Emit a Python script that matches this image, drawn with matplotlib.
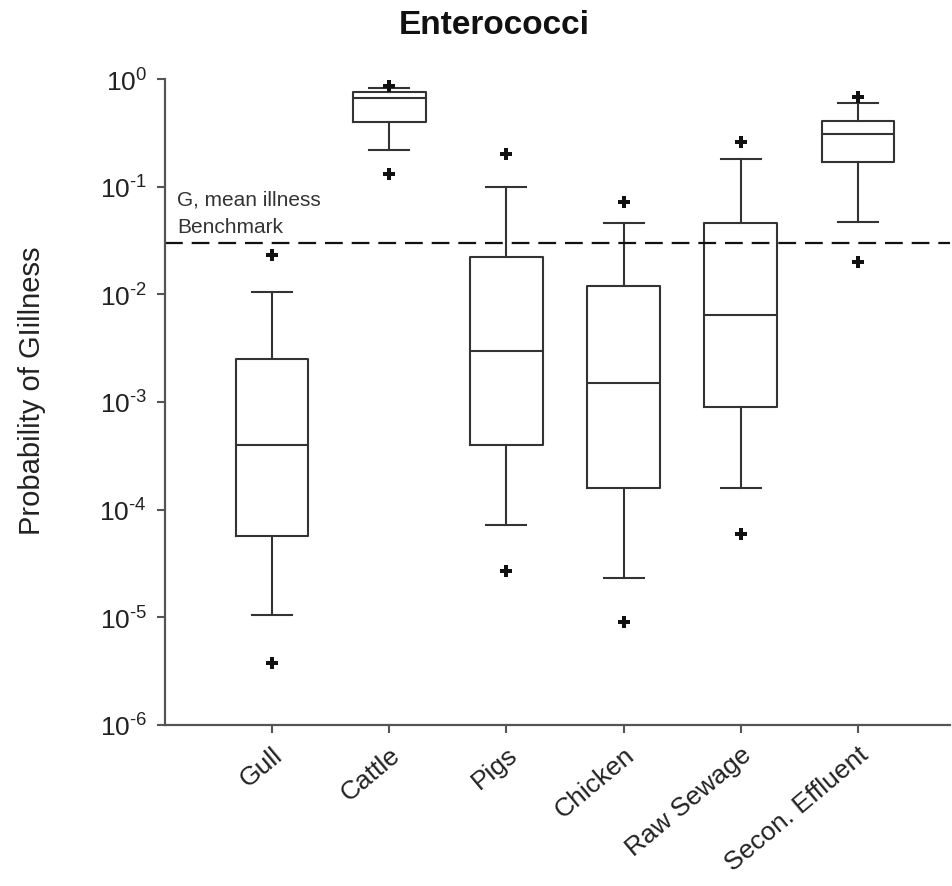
import matplotlib
matplotlib.use("Agg")
import matplotlib.pyplot as plt

plt.rcParams['font.family'] = ['Liberation Sans', 'DejaVu Sans']
plt.rcParams['mathtext.fontset'] = 'custom'
plt.rcParams['mathtext.rm'] = 'Liberation Sans'
plt.rcParams['mathtext.it'] = 'Liberation Sans'

# data (probability of GI illness)
categories = ['Gull', 'Cattle', 'Pigs', 'Chicken', 'Raw Sewage', 'Secon. Effluent']
whisker_low = [1.05e-5, 0.22, 7.2e-5, 2.3e-5, 1.6e-4, 0.047]
q1 = [5.7e-5, 0.40, 4.0e-4, 1.6e-4, 9.0e-4, 0.17]
medians = [4.0e-4, 0.66, 3.0e-3, 1.5e-3, 6.4e-3, 0.31]
q3 = [2.5e-3, 0.76, 2.2e-2, 1.2e-2, 4.6e-2, 0.41]
whisker_high = [1.05e-2, 0.83, 0.10, 0.046, 0.18, 0.60]
outliers = [[3.8e-6, 0.023], [0.13, 0.86], [2.7e-5, 0.20], [9e-6, 0.072], [6e-5, 0.26], [0.02, 0.68]]
benchmark = 0.03

ytick_exps = [0, -1, -2, -3, -4, -5, -6]

dpi = 100
fig = plt.figure(figsize=(953 / dpi, 887 / dpi), dpi=dpi)
ax = fig.add_axes([165 / 953, 161 / 887, 785 / 953, 646 / 887])

stats = []
for i, name in enumerate(categories):
    stats.append({'label': name, 'whislo': whisker_low[i], 'q1': q1[i], 'med': medians[i],
                  'q3': q3[i], 'whishi': whisker_high[i], 'fliers': outliers[i]})

line_col = '#333333'
positions = list(range(1, len(categories) + 1))
ax.bxp(stats, positions=positions, widths=0.62,
       boxprops=dict(color=line_col, linewidth=1.5),
       medianprops=dict(color=line_col, linewidth=1.5),
       whiskerprops=dict(color=line_col, linewidth=1.5),
       capprops=dict(color=line_col, linewidth=1.5),
       capwidths=0.34,
       flierprops=dict(marker='P', markersize=8, markerfacecolor='#111111',
                       markeredgecolor='#111111', markeredgewidth=0))

ax.axhline(benchmark, color='#111111', linewidth=1.6, linestyle=(0, (8, 4)))
ax.text(0.19, 0.077, 'G, mean illness', fontsize=15, color='#333333', va='center', ha='left')
ax.text(0.19, 0.043, 'Benchmark', fontsize=15, color='#333333', va='center', ha='left')

ax.set_yscale('log')
ax.set_ylim(1e-6, 1)
ax.set_xlim(0.087, 6.785)
ax.set_yticks([10.0 ** e for e in ytick_exps])
ax.set_yticklabels([r'$10^{\text{%d}}$' % e for e in ytick_exps])
ax.minorticks_off()
ax.set_xticks(positions)
ax.set_xticklabels(categories, rotation=40, ha='right', rotation_mode='anchor')

ax.tick_params(axis='both', labelsize=19, color='#555555', width=1.5, length=6, labelcolor='#222222')
ax.tick_params(axis='y', pad=7)
ax.tick_params(axis='x', pad=6)
for side in ['top', 'right']:
    ax.spines[side].set_visible(False)
for side in ['left', 'bottom']:
    ax.spines[side].set_color('#555555')
    ax.spines[side].set_linewidth(1.6)

ax.set_ylabel('Probability of GIillness', fontsize=21, color='#222222')
ax.yaxis.set_label_coords(-0.152, 0.519)
fig.text(494 / 953, 1 - 25 / 887, 'Enterococci', fontsize=24, fontweight='bold',
         ha='center', va='center', color='#111111')

fig.savefig('out.png', dpi=dpi)
